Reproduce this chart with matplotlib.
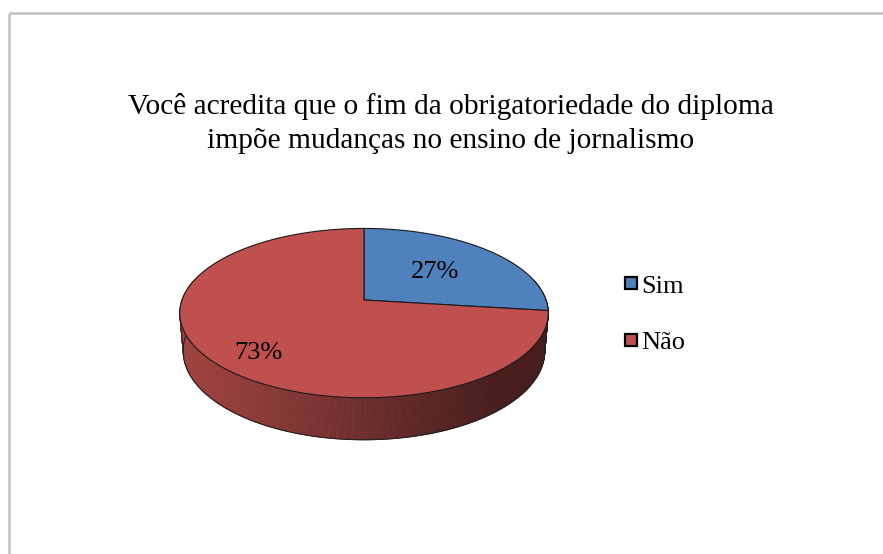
import numpy as np
import matplotlib

matplotlib.use("Agg")
import matplotlib.pyplot as plt
from matplotlib.patches import Polygon
from matplotlib.lines import Line2D

# data
categories = ["Sim", "Não"]
shares = [27, 73]
colors = ["#4F81BD", "#C0504D"]
title = "Você acredita que o fim da obrigatoriedade do diploma\nimpõe mudanças no ensino de jornalismo"

W, H = 883, 554
SERIF = ["Liberation Serif", "DejaVu Serif"]

# 3d pie geometry (pixels)
CX, CY = 364, 300
R = 182
ELEV = np.radians(27)
DIST = 5.76
THICK = 0.235


def proj(theta, h=0.0, r=1.0):
    u = r * np.cos(theta)
    v = r * np.sin(theta)
    depth = DIST + v * np.cos(ELEV) - h * np.sin(ELEV)
    k = DIST / depth
    x = CX + R * u * k
    y = CY - R * (v * np.sin(ELEV) + h * np.cos(ELEV)) * k
    return x, y


fig = plt.figure(figsize=(W / 100, H / 100), dpi=100, facecolor="white")
ax = fig.add_axes([0, 0, 1, 1])
ax.set_xlim(0, W)
ax.set_ylim(H, 0)
ax.axis("off")

# chart frame (only top and left visible in the crop)
ax.plot([8.5, W], [12.5, 12.5], color="#BFBFBF", lw=1.8, solid_capstyle="butt")
ax.plot([8.5, 8.5], [12.5, H], color="#BFBFBF", lw=1.8, solid_capstyle="butt")

ax.text(451, 123, title, ha="center", va="center", fontsize=21.2, family=SERIF,
        linespacing=1.4, color="black")

# slice angles, start at 12 o'clock, clockwise
fracs = np.array(shares) / sum(shares)
starts = np.pi / 2 - 2 * np.pi * np.concatenate([[0], np.cumsum(fracs)[:-1]])
ends = starts - 2 * np.pi * fracs


def shade(x):
    t = np.clip((x - (CX - R)) / (2 * R), 0, 1)
    return np.clip(0.84 - 0.55 * t, 0.37, 1)


def on_front(a):
    a = np.mod(a, 2 * np.pi)
    return a >= np.pi - 0.25 or a <= 0.25


# side walls (front half, a little past the silhouette)
n = 600
for s, e, c in zip(starts, ends, colors):
    base = np.array(matplotlib.colors.to_rgb(c))
    th = np.linspace(s, e, n)
    for a, b in zip(th[:-1], th[1:]):
        if not (on_front(a) and on_front(b)):
            continue
        x1, y1 = proj(a)
        x2, y2 = proj(b)
        x3, y3 = proj(b, -THICK)
        x4, y4 = proj(a, -THICK)
        col = base * shade((x1 + x2) / 2)
        ax.add_patch(Polygon([(x1, y1), (x2, y2), (x3, y3), (x4, y4)], closed=True,
                             facecolor=col, edgecolor=col, lw=0.6, zorder=2))

# outline of the wall
th = np.linspace(0, 2 * np.pi, 1440)
tx, ty = proj(th)
bx, by = proj(th, -THICK)
front = np.sin(th) <= 0.05
ax.plot(bx[front], by[front], color="#222222", lw=0.8, zorder=3)
for i, j in ((np.argmin(tx), np.argmin(bx)), (np.argmax(tx), np.argmax(bx))):
    ax.plot([tx[i], bx[j]], [ty[i], by[j]], color="#222222", lw=0.8, zorder=3)

# top faces
for s, e, c in zip(starts, ends, colors):
    th = np.linspace(s, e, 300)
    xs, ys = proj(th)
    pts = [(CX, CY)] + list(zip(xs, ys))
    ax.add_patch(Polygon(pts, closed=True, facecolor=c, edgecolor="#1a1a1a",
                         lw=0.8, joinstyle="round", zorder=4))

# percentage labels
label_r = [0.55, 0.72]
label_h = [0.0, -0.06]
for s, e, f, r, hh in zip(starts, ends, fracs, label_r, label_h):
    mid = (s + e) / 2
    lx, ly = proj(mid, hh, r)
    ax.text(lx, ly, f"{f * 100:.0f}%", ha="center", va="center", fontsize=19,
            family=SERIF, color="black", zorder=5)

handles = [Line2D([], [], marker="s", linestyle="none", markersize=8.5,
                  markerfacecolor=c, markeredgecolor="black", markeredgewidth=1.6)
           for c in colors]
fig.legend(handles, categories, loc="center left", bbox_to_anchor=(610 / W, 1 - 314 / H),
           frameon=False, borderpad=0, handlelength=0.6, handletextpad=0.1,
           labelspacing=1.25, prop={"family": SERIF, "size": 19})

fig.savefig("out.png", dpi=100, facecolor="white")
